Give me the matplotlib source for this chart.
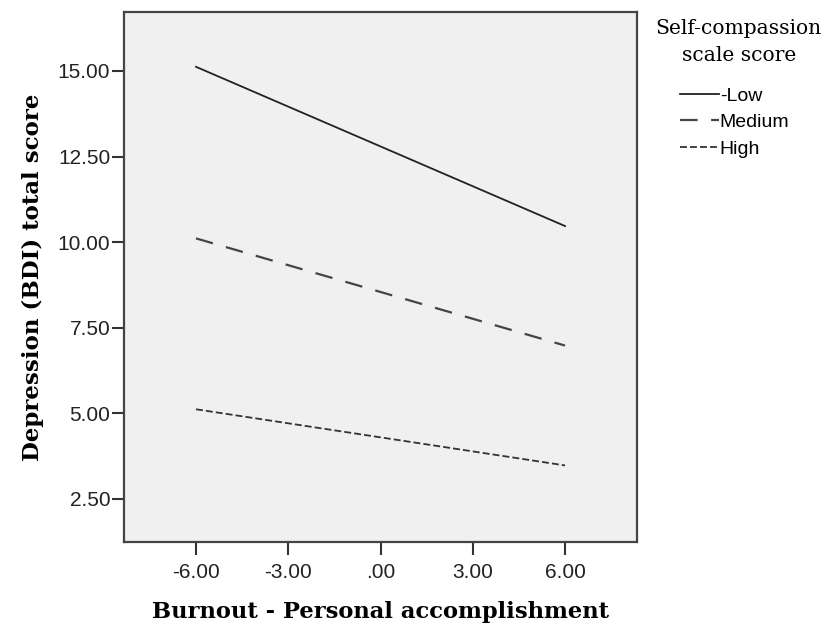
import numpy as np
import matplotlib
matplotlib.use('Agg')
import matplotlib.pyplot as plt

# simple slopes: burnout (personal accomplishment) vs depression, per self-compassion level
x_vals = [-6.0, 6.0]
low = [15.12, 10.47]
medium = [10.11, 6.98]
high = [5.12, 3.48]
series_names = ['-Low', 'Medium', 'High']

xticks = [-6, -3, 0, 3, 6]
xtick_labels = ['-6.00', '-3.00', '.00', '3.00', '6.00']
yticks = [2.5, 5.0, 7.5, 10.0, 12.5, 15.0]
ytick_labels = ['2.50', '5.00', '7.50', '10.00', '12.50', '15.00']

plt.rcParams['lines.scale_dashes'] = False

fig = plt.figure(figsize=(8.29, 6.32), dpi=100)
ax = fig.add_axes([0.1496, 0.1424, 0.6188, 0.8386])
ax.set_facecolor('#f0f0f0')

ax.plot(x_vals, low, color='#222222', lw=1.3, linestyle='-', label=series_names[0])
ax.plot(x_vals, medium, color='#444444', lw=1.6, dashes=(12.7, 9.7), label=series_names[1])
ax.plot(x_vals, high, color='#333333', lw=1.3, dashes=(5, 2.2), label=series_names[2])

ax.set_xlim(-8.34, 8.34)
ax.set_ylim(1.244, 16.72)
ax.set_xticks(xticks)
ax.set_xticklabels(xtick_labels)
ax.set_yticks(yticks)
ax.set_yticklabels(ytick_labels)

for s in ax.spines.values():
    s.set_color('#444444')
    s.set_linewidth(1.6)

ax.tick_params(direction='out', length=9, width=1.5, color='#333333',
               labelsize=15, pad=1)
for lab in ax.get_xticklabels() + ax.get_yticklabels():
    lab.set_family('Liberation Sans')
    lab.set_color('#222222')
ax.tick_params(axis='x', pad=6)

ax.set_xlabel('Burnout - Personal accomplishment', family='DejaVu Serif',
              fontweight='bold', fontsize=16.3, labelpad=14)
ax.set_ylabel('Depression (BDI) total score', family='DejaVu Serif',
              fontweight='bold', fontsize=16.5, labelpad=10)

# legend title drawn on its own so its spacing can follow the original
fig.text(0.891, 0.970, 'Self-compassion\nscale score', family='DejaVu Serif',
         fontsize=14.6, ha='center', va='top', multialignment='center',
         linespacing=1.55)

leg = fig.legend(handles=ax.get_lines(), loc='upper left',
                 bbox_to_anchor=(0.820, 0.862), frameon=False,
                 borderpad=0, borderaxespad=0, handlelength=2.0,
                 handletextpad=0.05, labelspacing=0.45,
                 prop={'family': 'Liberation Sans', 'size': 14})

fig.savefig('out.png', dpi=100)
